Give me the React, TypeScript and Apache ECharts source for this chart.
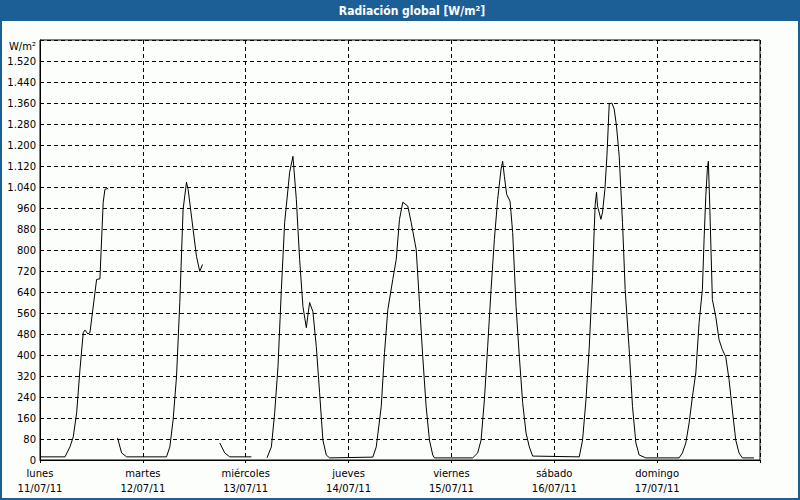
import React, { useEffect, useRef } from "react";
import * as echarts from "echarts";

const TITLE = "Radiación global [W/m²]";
const UNIT = "W/m²";
const dayNames = ["lunes", "martes", "miércoles", "jueves", "viernes", "sábado", "domingo"];
const dayDates = ["11/07/11", "12/07/11", "13/07/11", "14/07/11", "15/07/11", "16/07/11", "17/07/11"];

// hours since lunes 00:00 ; null = missing data (gap)
const hours = [
  0, 5.83, 6.99, 7.76, 8.55, 9.32, 10.09, 10.49, 11.18, 11.65, 13.21, 13.98, 14.75, 15.15, 15.91,
  17.0,
  18.1, 19.04, 20.2, 29.52, 30.29, 31.06, 31.85, 32.62, 33.39, 34.18, 34.56, 35.72, 36.51, 37.28, 37.91,
  40.0,
  41.94, 43.11, 44.27, 49.33,
  51.0,
  52.96, 53.99, 54.76, 55.53, 56.32, 57.09, 58.25, 59.02, 59.81, 60.58, 61.35, 62.14, 62.91, 63.68,
  64.47, 65.24, 66.01, 66.8, 67.57, 77.66, 78.46, 79.62, 80.39, 81.16, 82.32, 83.12, 83.88, 84.65,
  85.82, 86.61, 87.78, 88.54, 89.31, 90.1, 90.87, 91.64, 92.04, 100.96, 102.13, 102.92, 103.69,
  104.46, 105.25, 106.02, 106.79, 107.58, 107.95, 108.35, 108.89, 109.68, 110.29, 111.08, 111.85,
  112.62, 113.41, 114.17, 114.94, 125.83, 126.6, 127.39, 128.16, 128.93, 129.32, 129.55, 129.86,
  130.09, 130.88, 131.26, 131.81, 132.28, 132.82, 133.44, 133.98, 134.52, 135.15, 135.92, 136.54,
  137.48, 138.25, 139.04, 139.81, 141.37, 149.13, 149.9, 150.69, 151.46, 152.23, 153.02, 153.79,
  154.56, 154.95, 155.35, 155.72, 155.95, 156.28, 156.89, 157.68, 158.45, 159.22, 160.01, 160.78,
  161.54, 162.34, 163.11, 163.88, 166.6,
];

const radiation = [
  12, 12, 50, 88, 180, 344, 485, 495, 480, 485, 688, 690, 982, 1031, 1035,
  null,
  84, 27, 12, 12, 50, 153, 317, 600, 955, 1058, 1031, 879, 776, 718, 745,
  null,
  65, 27, 12, 12,
  null,
  8, 50, 180, 355, 650, 905, 1096, 1157, 993, 764, 585, 504, 600, 565,
  432, 256, 76, 19, 8, 11, 50, 203, 409, 573, 688, 764, 917, 982,
  967, 905, 802, 600, 393, 203, 76, 19, 8, 8, 27, 76, 229,
  432, 650, 840, 993, 1108, 1138, 1081, 1012, 986, 867, 585, 393,
  218, 103, 50, 15, 12, 76, 229, 430, 700, 879, 974, 1020,
  967, 917, 944, 1031, 1157, 1356, 1360, 1337, 1272, 1157, 905, 650,
  420, 203, 65, 19, 8, 8, 27, 65, 141, 241, 332, 523,
  650, 840, 1005, 1108, 1138, 967, 611, 546, 458, 420, 393, 306,
  191, 76, 27, 8, 8,
];

const Y_MAX = 1600;
const Y_STEP = 80;
const X_MAX = 168;
const X_STEP = 24;

const FONT = "'DejaVu Sans', Verdana, sans-serif";
const BLUE = "#1c5f96";

export default function App() {
  const ref = useRef<HTMLDivElement>(null);

  useEffect(() => {
    if (!ref.current) return;
    const chart = echarts.init(ref.current, undefined, { renderer: "svg" });
    const data = hours.map((h, i) => [h, radiation[i] === null ? "-" : radiation[i]]);

    chart.setOption({
      animation: false,
      backgroundColor: "#fcfefc",
      textStyle: { fontFamily: FONT },
      graphic: [
        {
          type: "rect",
          shape: { x: 1, y: 1, width: 798, height: 498 },
          style: { fill: "none", stroke: BLUE, lineWidth: 2 },
          silent: true,
        },
        {
          type: "rect",
          shape: { x: 0, y: 0, width: 800, height: 21 },
          style: { fill: BLUE },
          silent: true,
        },
        {
          type: "text",
          x: 412,
          y: 11,
          style: {
            text: TITLE,
            fill: "#ffffff",
            font: "bold 12px 'DejaVu Sans Condensed', 'Liberation Sans', sans-serif",
            textAlign: "center",
            textVerticalAlign: "middle",
          },
          silent: true,
        },
      ],
      grid: {
        left: 40,
        right: 40,
        top: 40,
        bottom: 40,
        show: true,
        borderColor: "#000",
        borderWidth: 1,
        backgroundColor: "transparent",
      },
      xAxis: {
        type: "value",
        min: 0,
        max: X_MAX,
        interval: X_STEP,
        axisLine: { show: true, lineStyle: { color: "#000", width: 1 } },
        axisTick: { show: true, length: 3, lineStyle: { color: "#000" } },
        splitLine: { show: true, lineStyle: { color: "#000", type: [4, 3], width: 1 } },
        axisLabel: {
          color: "#000",
          fontSize: 10,
          fontFamily: FONT,
          lineHeight: 15,
          margin: 6,
          formatter: (v: number) => {
            const i = Math.round(v / X_STEP);
            return i < dayNames.length ? `${dayNames[i]}\n${dayDates[i]}` : "";
          },
        },
      },
      yAxis: {
        type: "value",
        min: 0,
        max: Y_MAX,
        interval: Y_STEP,
        name: UNIT,
        nameLocation: "end",
        nameGap: -6,
        nameTextStyle: {
          color: "#000",
          fontSize: 10,
          fontFamily: FONT,
          align: "right",
          verticalAlign: "middle",
          padding: [0, 4, 0, 0],
        },
        axisLine: { show: true, lineStyle: { color: "#000", width: 1 } },
        axisTick: { show: false },
        splitLine: { show: true, lineStyle: { color: "#000", type: [4, 3], width: 1 } },
        axisLabel: {
          color: "#000",
          fontSize: 10,
          fontFamily: FONT,
          margin: 4,
          formatter: (v: number) => {
            if (v >= Y_MAX) return "";
            return v >= 1000 ? `${Math.floor(v / 1000)}.${String(v % 1000).padStart(3, "0")}` : String(v);
          },
        },
      },
      series: [
        {
          type: "line",
          data,
          showSymbol: false,
          connectNulls: false,
          lineStyle: { color: "#000", width: 1 },
          itemStyle: { color: "#000" },
          silent: true,
        },
      ],
    });
    return () => chart.dispose();
  }, []);

  return (
    <div
      ref={ref}
      style={{ position: "fixed", left: 0, top: 0, width: 800, height: 500 }}
    />
  );
}
